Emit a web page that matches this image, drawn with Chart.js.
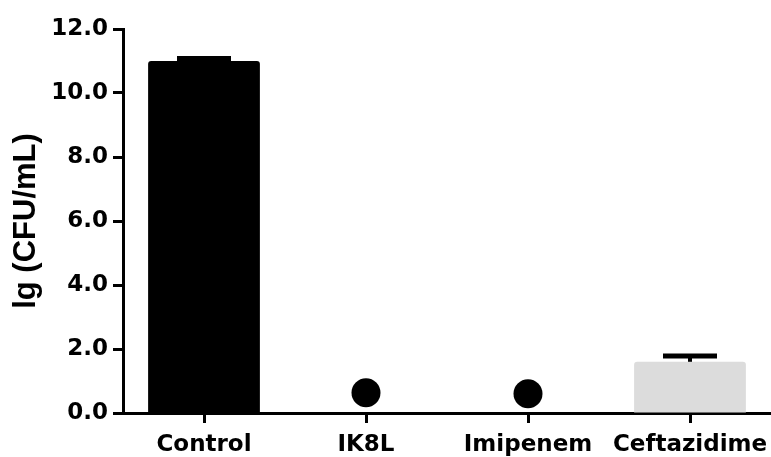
<!DOCTYPE html>
<html>
<head>
<meta charset="utf-8">
<script src="https://cdn.jsdelivr.net/npm/chart.js@4/dist/chart.umd.min.js"></script>
<style>
  html, body { margin: 0; padding: 0; background: #fff; }
  #wrap { width: 771px; height: 457px; }
</style>
</head>
<body>
<div id="wrap"><canvas id="grafico"></canvas></div>
<script>
// Dados
const categorias = ['Control', 'IK8L', 'Imipenem', 'Ceftazidime'];
const mediasBarras = [11.0, null, null, 1.6];
const erroBarras = [0.08, null, null, 0.18];
const pontos = [null, 0.63, 0.6, null];
const coresBarras = ['#000000', '#000000', '#000000', '#dcdcdc'];
const ticksY = [0, 2, 4, 6, 8, 10, 12];

// Barras de erro desenhadas a partir das escalas do gráfico
const barrasErro = {
  id: 'barrasErro',
  afterDatasetsDraw(chart) {
    const ctx = chart.ctx;
    const x = chart.scales.x;
    const y = chart.scales.y;
    ctx.save();
    ctx.strokeStyle = '#000';
    mediasBarras.forEach((m, i) => {
      if (m == null || erroBarras[i] == null) return;
      const cx = x.getPixelForValue(i);
      const yBase = y.getPixelForValue(m);
      const yTopo = y.getPixelForValue(m + erroBarras[i]);
      ctx.lineWidth = 4;
      ctx.beginPath();
      ctx.moveTo(cx, yBase);
      ctx.lineTo(cx, yTopo);
      ctx.stroke();
      ctx.lineWidth = 5;
      ctx.beginPath();
      ctx.moveTo(cx - 27, yTopo);
      ctx.lineTo(cx + 27, yTopo);
      ctx.stroke();
    });
    ctx.restore();
  }
};

const fonteTicks = { family: "'DejaVu Sans', sans-serif", size: 23, weight: 'bold' };

new Chart(document.getElementById('grafico').getContext('2d'), {
  type: 'bar',
  data: {
    labels: categorias,
    datasets: [
      {
        type: 'bar',
        data: mediasBarras,
        backgroundColor: coresBarras,
        borderRadius: 3,
        barPercentage: 0.69,
        categoryPercentage: 1.0,
        order: 2
      },
      {
        type: 'line',
        data: pontos,
        showLine: false,
        pointRadius: 14.5,
        pointBackgroundColor: '#000',
        pointBorderWidth: 0,
        order: 1
      }
    ]
  },
  options: {
    responsive: true,
    maintainAspectRatio: false,
    animation: false,
    layout: { autoPadding: false, padding: { top: 29, left: 0, right: 0, bottom: 0 } },
    plugins: { legend: { display: false }, tooltip: { enabled: false } },
    scales: {
      x: {
        afterFit: s => { s.height = 44; s.paddingLeft = 0; s.paddingRight = 0; },
        border: { display: true, width: 3, color: '#000' },
        grid: {
          offset: false,
          drawOnChartArea: false,
          drawTicks: true,
          tickLength: 10,
          tickWidth: 3,
          tickColor: '#000'
        },
        ticks: { color: '#000', font: fonteTicks, padding: 8, maxRotation: 0 }
      },
      y: {
        min: 0,
        max: 12,
        afterFit: s => { s.width = 123; },
        afterBuildTicks: s => { s.ticks = ticksY.map(v => ({ value: v })); },
        border: { display: true, width: 3, color: '#000' },
        grid: {
          drawOnChartArea: false,
          drawTicks: true,
          tickLength: 10,
          tickWidth: 3,
          tickColor: '#000'
        },
        ticks: {
          color: '#000',
          font: fonteTicks,
          padding: 5,
          callback: v => v.toFixed(1)
        },
        title: {
          display: true,
          text: 'lg (CFU/mL)',
          color: '#000',
          font: { family: "'Liberation Sans', Arial, sans-serif", size: 31, weight: 'bold' },
          padding: { top: 8, bottom: 0 }
        }
      }
    }
  },
  plugins: [barrasErro]
});
</script>
</body>
</html>
